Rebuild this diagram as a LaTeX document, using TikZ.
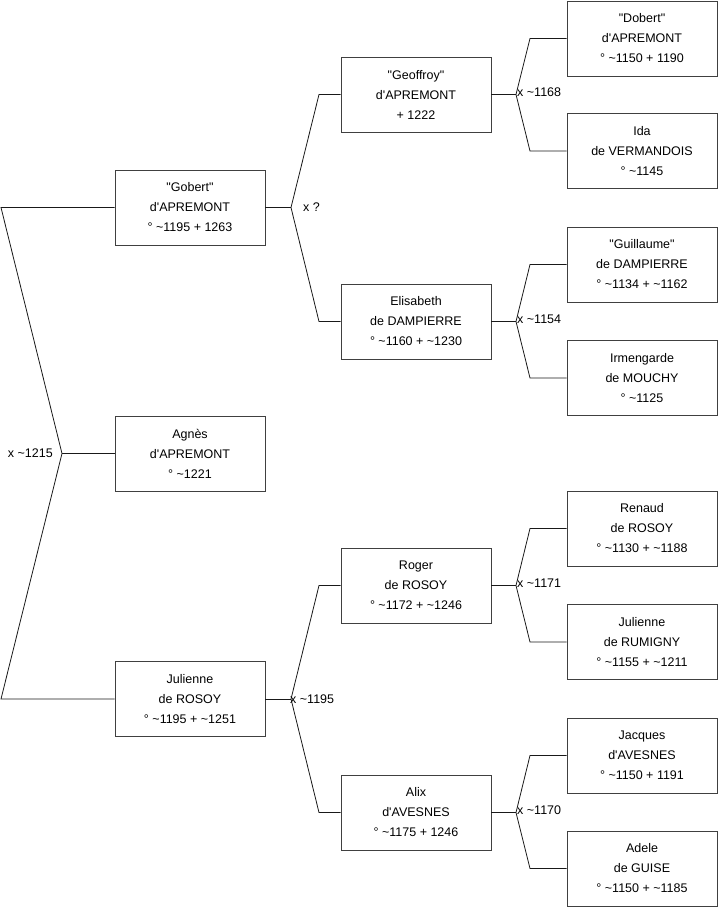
\documentclass[tikz,border=0pt]{standalone}
\usepackage{fontspec}
\setmainfont{Liberation Sans}[Ligatures=TeXOff]
\begin{document}
\begin{tikzpicture}[x=1pt,y=-1pt,
  pbox/.style={draw=black!75,line width=0.9pt,fill=white,minimum width=150pt,minimum height=75pt,
    align=center,inner sep=0pt,font=\fontsize{12.5}{20}\selectfont},
  conn/.style={draw=black!90,line width=0.8pt},
  lbl/.style={font=\fontsize{12.5}{15}\selectfont,inner sep=0pt}]
\useasboundingbox (0,0) rectangle (719,908);
% column 1
\node[pbox] (gob) at (190,207.5) {"Gobert"\\d'APREMONT\\° \textasciitilde1195 + 1263};
\node[pbox] (agn) at (190,453.5) {Agnès\\d'APREMONT\\° \textasciitilde1221};
\node[pbox] (jul) at (190,699) {Julienne\\de ROSOY\\° \textasciitilde1195 + \textasciitilde1251};
% column 2
\node[pbox] (geo) at (416,94.5) {"Geoffroy"\\d'APREMONT\\+ 1222};
\node[pbox] (eli) at (416,321.5) {Elisabeth\\de DAMPIERRE\\° \textasciitilde1160 + \textasciitilde1230};
\node[pbox] (rog) at (416,585.5) {Roger\\de ROSOY\\° \textasciitilde1172 + \textasciitilde1246};
\node[pbox] (ali) at (416,812.5) {Alix\\d'AVESNES\\° \textasciitilde1175 + 1246};
% column 3
\node[pbox] (dob) at (642,38.5) {"Dobert"\\d'APREMONT\\° \textasciitilde1150 + 1190};
\node[pbox] (ida) at (642,151) {Ida\\de VERMANDOIS\\° \textasciitilde1145};
\node[pbox] (gui) at (642,264.5) {"Guillaume"\\de DAMPIERRE\\° \textasciitilde1134 + \textasciitilde1162};
\node[pbox] (irm) at (642,378) {Irmengarde\\de MOUCHY\\° \textasciitilde1125};
\node[pbox] (ren) at (642,528.5) {Renaud\\de ROSOY\\° \textasciitilde1130 + \textasciitilde1188};
\node[pbox] (jur) at (642,642) {Julienne\\de RUMIGNY\\° \textasciitilde1155 + \textasciitilde1211};
\node[pbox] (jac) at (642,755.5) {Jacques\\d'AVESNES\\° \textasciitilde1150 + 1191};
\node[pbox] (ade) at (642,868.5) {Adele\\de GUISE\\° \textasciitilde1150 + \textasciitilde1185};
% left bracket
\coordinate (lt) at (1,207.5);
\coordinate (lv) at (62,453.5);
\coordinate (lb) at (1,699);
\draw[conn] (gob) -- (lt) -- (lv) -- (lb) -- (jul);
\draw[conn] (lv) -- (agn);
\node[lbl,anchor=east] (l0) at (53,453.5) {x \textasciitilde1215};
% generation 1 -> 2
\coordinate (v1) at (291,207.5);
\coordinate (v1a) at (319,94.5);
\coordinate (v1b) at (319,321.5);
\draw[conn] (gob) -- (v1);
\draw[conn] (geo) -- (v1a) -- (v1) -- (v1b) -- (eli);
\node[lbl,anchor=west] (l1) at (303,207.5) {x ?};
\coordinate (v2) at (291,699);
\coordinate (v2a) at (319,585.5);
\coordinate (v2b) at (319,812.5);
\draw[conn] (jul) -- (v2);
\draw[conn] (rog) -- (v2a) -- (v2) -- (v2b) -- (ali);
\node[lbl,anchor=west] (l2) at (290,699) {x \textasciitilde1195};
% generation 2 -> 3
\coordinate (v3) at (516,94.5);
\coordinate (v3a) at (530,38.5);
\coordinate (v3b) at (530,151);
\draw[conn] (geo) -- (v3);
\draw[conn] (dob) -- (v3a) -- (v3) -- (v3b) -- (ida);
\node[lbl,anchor=west] (l3) at (517,92) {x \textasciitilde1168};
\coordinate (v4) at (516,321.5);
\coordinate (v4a) at (530,264.5);
\coordinate (v4b) at (530,378);
\draw[conn] (eli) -- (v4);
\draw[conn] (gui) -- (v4a) -- (v4) -- (v4b) -- (irm);
\node[lbl,anchor=west] (l4) at (517,319) {x \textasciitilde1154};
\coordinate (v5) at (516,585.5);
\coordinate (v5a) at (530,528.5);
\coordinate (v5b) at (530,642);
\draw[conn] (rog) -- (v5);
\draw[conn] (ren) -- (v5a) -- (v5) -- (v5b) -- (jur);
\node[lbl,anchor=west] (l5) at (517,583) {x \textasciitilde1171};
\coordinate (v6) at (516,812.5);
\coordinate (v6a) at (530,755.5);
\coordinate (v6b) at (530,868.5);
\draw[conn] (ali) -- (v6);
\draw[conn] (jac) -- (v6a) -- (v6) -- (v6b) -- (ade);
\node[lbl,anchor=west] (l6) at (517,810) {x \textasciitilde1170};
\end{tikzpicture}
\end{document}
